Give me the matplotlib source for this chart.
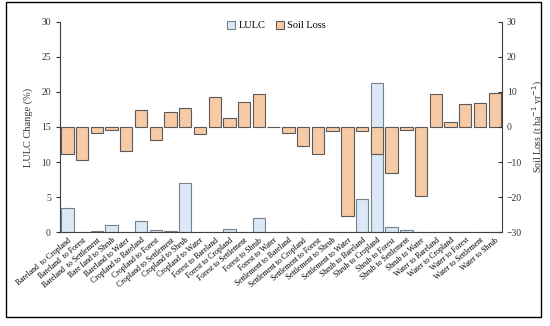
import numpy as np
import matplotlib
matplotlib.use("Agg")
import matplotlib.pyplot as plt
from matplotlib.patches import Rectangle

plt.rcParams['font.family'] = ['Liberation Serif', 'DejaVu Serif']

categories = [
    "Bareland  to Cropland", "Bareland  to Forest", "Bareland  to Settlement", "Bare land to Shrub",
    "Bareland to Water", "Cropland to Bareland", "Cropland to Forest", "Cropland to Settlement",
    "Cropland to Shrub", "Cropland to Water", "Forest to Bareland", "Forest to Cropland",
    "Forest to Settlement", "Forest to Shrub", "Forest to Water", "Settlement to Bareland",
    "Settlement to Cropland", "Settlement to Forest", "Settlement to Shrub", "Settlement to Water",
    "Shrub to Bareland", "Shrub to Cropland", "Shrub to Forest", "Shrub to Settlement",
    "Shrub to Water", "Water to Bareland", "Water to Cropland", "Water to Forest",
    "Water to Settlement", "Water to Shrub",
]
lulc = [3.5, 0.02, 0.1, 1.05, 0.0, 1.53, 0.24, 0.15, 7.0, 0.0,
        0.05, 0.48, 0.0, 2.05, 0.0, 0.02, 0.05, 0.0, 0.05, 0.0,
        4.7, 21.3, 0.72, 0.24, 0.0, 0.0, 0.0, 0.05, 0.0, 0.0]
soil_loss = [-7.6, -9.5, -1.6, -1.0, -6.8, 4.9, -3.6, 4.2, 5.5, -1.9,
             8.6, 2.5, 7.0, 9.5, 0.0, -1.6, -5.5, -7.7, -1.2, -25.4,
             -1.2, -7.7, -13.2, -0.9, -19.8, 9.3, 1.3, 6.5, 6.9, 9.7]

x = np.arange(len(categories))
blue = '#dbe8f5'
orange = '#f7caa6'
edge = '#5a5a5a'

fig = plt.figure(figsize=(5.5, 3.26), dpi=100)
ax = fig.add_axes([0.109, 0.288, 0.804, 0.645])
ax2 = ax.twinx()

ax.bar(x, lulc, width=0.84, color=blue, edgecolor='#76818c', linewidth=0.8, label='LULC')
ax2.bar(x, soil_loss, width=0.84, color=orange, edgecolor=edge, linewidth=0.8, label='Soil Loss')

ax.set_xlim(-0.5, len(categories) - 0.5)
ax.set_ylim(0, 30)
ax2.set_ylim(-30, 30)
ax.set_yticks(range(0, 31, 5))
ax2.set_yticks(range(-30, 31, 10))

ax.set_xticks(x)
ax.set_xticklabels(categories, rotation=40, ha='right', rotation_mode='anchor', fontsize=5.6)
ax.tick_params(axis='x', length=0, pad=3)
ax.tick_params(axis='y', direction='out', length=3, labelsize=7, colors='#333333', width=0.8)
ax2.tick_params(axis='y', direction='in', length=3, labelsize=7, colors='#333333', width=0.8)

for a in (ax, ax2):
    a.spines['top'].set_visible(False)
    for s in a.spines.values():
        s.set_color('#404040')
        s.set_linewidth(0.8)
ax.spines['right'].set_visible(False)
ax2.spines['left'].set_visible(False)
ax2.spines['bottom'].set_visible(False)

ax.set_ylabel("LULC Change (%)", fontsize=7.5, color='#333333', labelpad=6)
ax2.set_ylabel("Soil Loss (t ha$^{-1}$ yr$^{-1}$)", fontsize=7, color='#333333', labelpad=6)

h1, l1 = ax.get_legend_handles_labels()
h2, l2 = ax2.get_legend_handles_labels()
ax2.legend(h1 + h2, l1 + l2, loc='upper center', bbox_to_anchor=(0.49, 1.05), ncol=2,
           frameon=False, fontsize=7.5, handlelength=0.8, handleheight=0.8,
           handletextpad=0.3, columnspacing=1.0)

fig.patches.append(Rectangle((0.011, 0.028), 0.973, 0.966, transform=fig.transFigure,
                             fill=False, edgecolor='black', linewidth=1.0))

fig.savefig("out.png", dpi=100)
